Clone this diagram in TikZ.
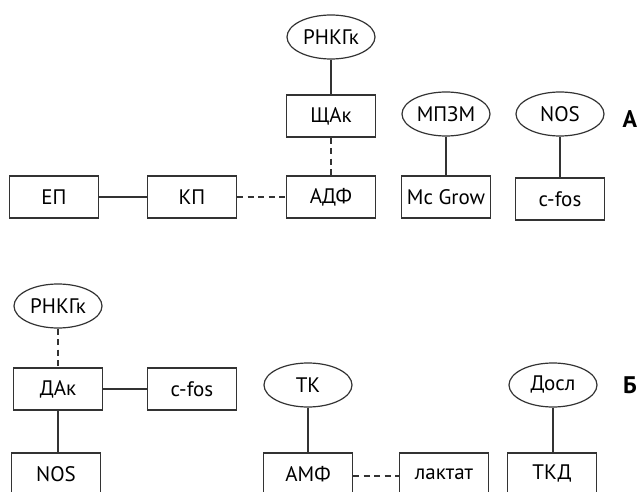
\documentclass[tikz,border=0pt]{standalone}
\usepackage{fontspec}
\setmainfont{PT Sans}
\usetikzlibrary{shapes.geometric}
\definecolor{ln}{HTML}{333333}
\tikzset{
  boxn/.style={draw=ln, line width=1.2pt, rectangle, minimum width=89pt, minimum height=42pt, inner sep=0pt, font=\fontsize{21}{21}\selectfont},
  ovaln/.style={draw=ln, line width=1.2pt, ellipse, minimum width=88pt, minimum height=44pt, inner sep=0pt, font=\fontsize{21}{21}\selectfont},
  conn/.style={draw=ln, line width=1.4pt},
  dconn/.style={draw=ln, line width=1.4pt, dash pattern=on 6pt off 4.5pt},
  lab/.style={font=\fontsize{24}{24}\selectfont\bfseries, inner sep=0pt}
}
\begin{document}
\begin{tikzpicture}[x=1pt,y=-1pt]
\useasboundingbox (0,0) rectangle (640,492);
\clip (0,0) rectangle (640,492);
% top part
\node[ovaln] (rnk1) at (331,37) {РНКГк};
\node[boxn] (shak) at (331,116) {ЩАк};
\node[boxn] (adf) at (331,197) {АДФ};
\node[boxn] (kp) at (192,197) {КП};
\node[boxn] (ep) at (54,197) {ЕП};
\node[ovaln] (mpzm) at (446,114) {МПЗМ};
\node[boxn] (mcg) at (446,197) {Mc Grow};
\node[ovaln] (nos1) at (560,114) {NOS};
\node[boxn] (cfos1) at (560,199) {c-fos};
\node[lab] (la) at (630,119) {А};
\draw[conn] (rnk1) -- (shak);
\draw[dconn] (shak) -- (adf);
\draw[conn] (ep) -- (kp);
\draw[dconn] (kp) -- (adf);
\draw[conn] (mpzm) -- (mcg);
\draw[conn] (nos1) -- (cfos1);
% bottom part
\node[ovaln] (rnk2) at (58,306) {РНКГк};
\node[boxn] (dak) at (58,389) {ДАк};
\node[boxn] (cfos2) at (192,389) {c-fos};
\node[boxn] (nos2) at (56,474) {NOS};
\node[ovaln] (tk) at (308,385) {ТК};
\node[boxn] (amf) at (308,474) {АМФ};
\node[boxn] (lak) at (444,474) {лактат};
\node[ovaln] (dosl) at (553,385) {Досл};
\node[boxn] (tkd) at (552,474) {ТКД};
\node[lab] (lb) at (630,385) {Б};
\draw[dconn] (rnk2) -- (dak);
\draw[conn] (dak) -- (cfos2);
\draw[conn] (dak.south) -- (dak.south |- nos2.north);
\draw[conn] (tk) -- (amf);
\draw[dconn] (amf.east |- 0,476) -- (lak.west |- 0,476);
\draw[conn] (dosl.south) -- (dosl.south |- tkd.north);
\end{tikzpicture}
\end{document}
